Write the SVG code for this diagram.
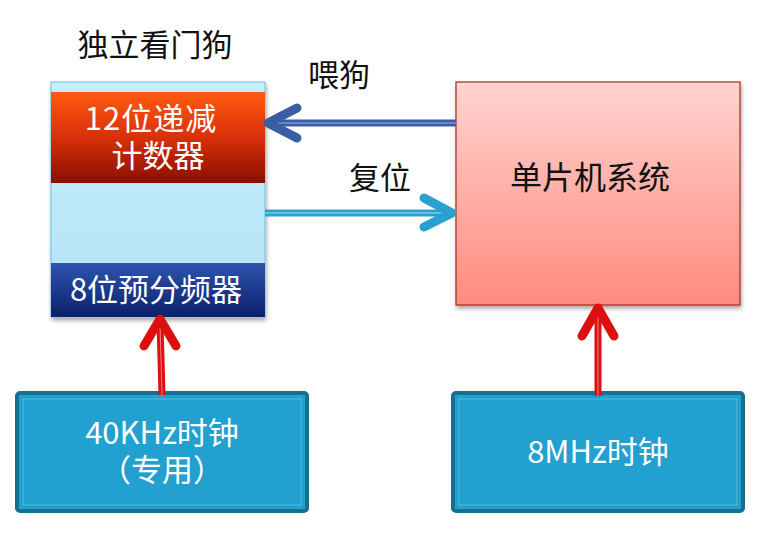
<svg xmlns="http://www.w3.org/2000/svg" width="767" height="547" viewBox="0 0 767 547">
<style>
.t{font-family:"Noto Sans CJK SC","Noto Sans",sans-serif;}
.w{fill:#ffffff;}
.k{fill:#111111;}
.clk{fill:#22a0cf;stroke:#176f8e;stroke-width:4;}
.clkin{fill:none;stroke:#5cc0e0;stroke-width:1;opacity:0.8;}
.head{fill:none;stroke-linecap:round;stroke-linejoin:round;stroke-width:9;}
</style>
<defs>
<linearGradient id="gred" x1="0" y1="0" x2="0" y2="1">
<stop offset="0" stop-color="#ff5a10"/><stop offset="0.5" stop-color="#d8300a"/><stop offset="1" stop-color="#8a0e00"/>
</linearGradient>
<linearGradient id="gnavy" x1="0" y1="0" x2="0" y2="1">
<stop offset="0" stop-color="#2e55b0"/><stop offset="1" stop-color="#0b1f6a"/>
</linearGradient>
<linearGradient id="glb" x1="0" y1="0" x2="0" y2="1">
<stop offset="0" stop-color="#c6eefc"/><stop offset="1" stop-color="#b4e2f7"/>
</linearGradient>
<linearGradient id="gpink" x1="0" y1="0" x2="0" y2="1">
<stop offset="0" stop-color="#ffd4d0"/><stop offset="1" stop-color="#ff8a7e"/>
</linearGradient>
<filter id="sh" x="-10%" y="-10%" width="120%" height="120%"><feDropShadow dx="1" dy="3" stdDeviation="2" flood-color="#000" flood-opacity="0.35"/></filter>
</defs>
<rect width="767" height="547" fill="#ffffff"/>

<text class="t k" x="155" y="56" font-size="31" text-anchor="middle">独立看门狗</text>

<g id="watchdog">
<rect x="51" y="82" width="214" height="235" fill="url(#glb)" stroke="#6cc0e0" stroke-width="1" filter="url(#sh)"/>
<g id="counter">
<rect x="51" y="92" width="214" height="91" fill="url(#gred)"/>
<text class="t w" x="151" y="130" font-size="31" text-anchor="middle" letter-spacing="1">12位递减</text>
<text class="t w" x="158" y="167" font-size="31" text-anchor="middle">计数器</text>
</g>
<g id="prescaler">
<rect x="51" y="263" width="214" height="54" fill="url(#gnavy)"/>
<text class="t w" x="156" y="301" font-size="31" text-anchor="middle">8位预分频器</text>
</g>
</g>

<g id="mcu">
<rect x="456" y="82" width="284" height="223" fill="url(#gpink)" stroke="#a8281e" stroke-width="1.2" filter="url(#sh)"/>
<text class="t k" x="590" y="189" font-size="32" text-anchor="middle">单片机系统</text>
</g>

<g id="clk40">
<rect x="17" y="393" width="290" height="118" rx="3" class="clk"/>
<rect x="23" y="399" width="278" height="106" class="clkin"/>
<text class="t w" x="162" y="444" font-size="31" text-anchor="middle">40KHz时钟</text>
<text class="t w" x="162" y="481" font-size="31" text-anchor="middle">（专用）</text>
</g>

<g id="clk8">
<rect x="453" y="393" width="290" height="118" rx="3" class="clk"/>
<rect x="459" y="399" width="278" height="106" class="clkin"/>
<text class="t w" x="598" y="463" font-size="31" text-anchor="middle">8MHz时钟</text>
</g>

<g id="connectors">
<line x1="456" y1="123" x2="270" y2="123" stroke="#3a5da6" stroke-width="7"/>
<line x1="456" y1="123" x2="272" y2="123" stroke="#9fb4dc" stroke-width="1"/>
<polyline points="297,108 268,123 297,138" class="head" stroke="#3a5da6"/>
<text class="t k" x="339" y="86" font-size="31" text-anchor="middle">喂狗</text>

<line x1="265" y1="213" x2="450" y2="213" stroke="#2aa0d0" stroke-width="7"/>
<line x1="265" y1="213" x2="448" y2="213" stroke="#a8dcef" stroke-width="1"/>
<polyline points="424,198 452,213 424,227" class="head" stroke="#2aa0d0"/>
<text class="t k" x="380" y="189" font-size="31" text-anchor="middle">复位</text>

<line x1="162" y1="395" x2="160" y2="322" stroke="#dd1010" stroke-width="7"/>
<line x1="162" y1="395" x2="160" y2="324" stroke="#f08080" stroke-width="1"/>
<polyline points="144,346 160,319 176,346" class="head" stroke="#dd1010"/>

<line x1="598" y1="396" x2="598" y2="310" stroke="#dd1010" stroke-width="7"/>
<line x1="598" y1="396" x2="598" y2="312" stroke="#f08080" stroke-width="1"/>
<polyline points="582,336 598,308 614,336" class="head" stroke="#dd1010"/>
</g>
</svg>
